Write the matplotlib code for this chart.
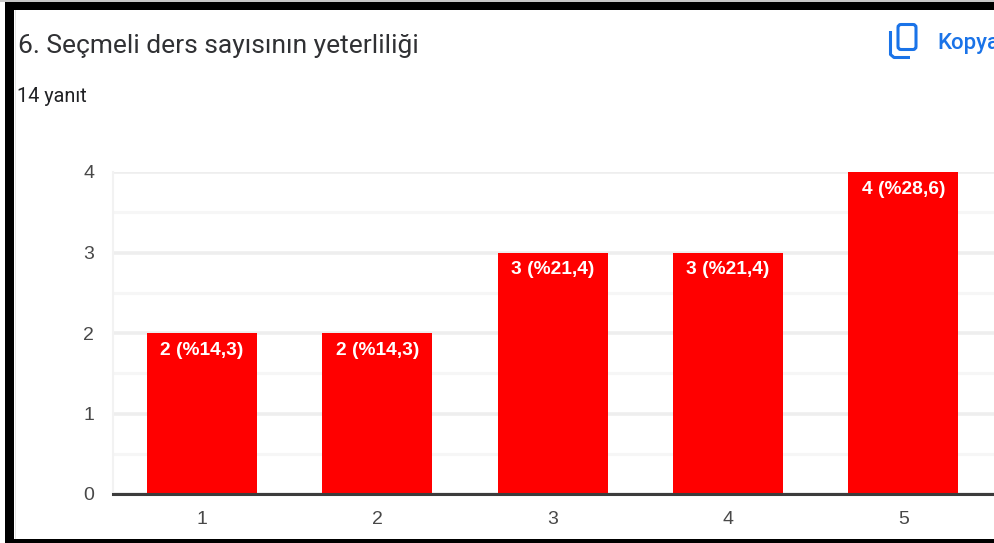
#!/usr/bin/env python3
import matplotlib
matplotlib.use('Agg')

import matplotlib.pyplot as plt
from matplotlib.patches import FancyBboxPatch, Rectangle
import matplotlib.ticker as mticker

W, H = 994, 543

# ── Data ───────────────────────────────────────────────
title = '6. Seçmeli ders sayısının yeterliliği'
subtitle = '14 yanıt'
copy_label = 'Kopya'
categories = [1, 2, 3, 4, 5]
counts = [2, 2, 3, 3, 4]
bar_labels = ['2 (%14,3)', '2 (%14,3)', '3 (%21,4)', '3 (%21,4)', '4 (%28,6)']
y_ticks = [0, 1, 2, 3, 4]

fig = plt.figure(figsize=(W / 100, H / 100), dpi=100, facecolor='white')

# ── Chart, placed by pixel position ────────────────────
left, right, top, bottom = 113, 994, 172, 494
ax = fig.add_axes([left / W, 1 - bottom / H, (right - left) / W, (bottom - top) / H])
ax.set_xlim(0.492, 5.517)
ax.set_ylim(0, 4)
ax.bar(categories, counts, width=0.627, color='#ff0000', zorder=3)

ax.set_yticks(y_ticks)
ax.yaxis.set_minor_locator(mticker.MultipleLocator(0.5))
ax.grid(axis='y', which='major', color='#eeeeee', linewidth=2.6, zorder=0)
ax.grid(axis='y', which='minor', color='#f6f6f6', linewidth=2.2, zorder=0)
for s in ['top', 'right']:
    ax.spines[s].set_visible(False)
ax.spines['left'].set_color('#f2f2f2')
ax.spines['left'].set_linewidth(1.5)
ax.spines['bottom'].set_color('#3c3c3c')
ax.spines['bottom'].set_linewidth(2.2)
ax.spines['bottom'].set_zorder(5)
ax.set_xticks(categories)
ax.tick_params(which='both', length=0)
ax.tick_params(axis='x', pad=12, labelsize=14, labelcolor='#484848')
ax.tick_params(axis='y', pad=13.5, labelsize=14, labelcolor='#484848')
for t in ax.get_xticklabels() + ax.get_yticklabels():
    t.set_fontfamily('Liberation Sans')

for x, y, lab in zip(categories, counts, bar_labels):
    ax.annotate(lab, (x, y), xytext=(0, -6.2), textcoords='offset points',
                ha='center', va='top', color='white', fontsize=13.8,
                fontfamily='Liberation Sans', fontweight='bold', zorder=6)

# ── Overlay in pixel coordinates: frame, header, icon ──
ov = fig.add_axes([0, 0, 1, 1], facecolor='none')
ov.set_xlim(0, W)
ov.set_ylim(H, 0)
ov.axis('off')

ov.add_patch(Rectangle((0, 0), W, 1.5, color='#c8c8c8', lw=0))
ov.add_patch(Rectangle((5, 1.5), W - 5, 8, color='black', lw=0))
ov.add_patch(Rectangle((5, 1.5), 8.5, H, color='black', lw=0))
ov.add_patch(Rectangle((5, 539), W - 5, 4, color='black', lw=0))
ov.add_patch(Rectangle((14.5, 10), 1.5, 529, color='#e4e4e4', lw=0))

ov.text(18, 46, title, fontsize=19, color='#303134', family='Roboto',
        ha='left', va='center')
ov.text(17, 97, subtitle, fontsize=14.3, color='#202124', family='Roboto',
        ha='left', va='center')

# the label runs off the right edge in the reference too
blue = '#1a73e8'
ov.text(937, 43, copy_label, fontsize=16, color=blue, family='Roboto',
        ha='left', va='center', fontweight='medium', clip_on=True)
ov.add_patch(FancyBboxPatch((898, 24.5), 18, 25, boxstyle='round,pad=0,rounding_size=3',
                            fc='none', ec=blue, lw=2.2))
ov.plot([890.5, 890.5, 894, 910], [31, 54.5, 57.5, 57.5], color=blue, lw=2.2,
        solid_capstyle='butt', solid_joinstyle='round')

fig.savefig('out.png', dpi=100)
plt.close(fig)
